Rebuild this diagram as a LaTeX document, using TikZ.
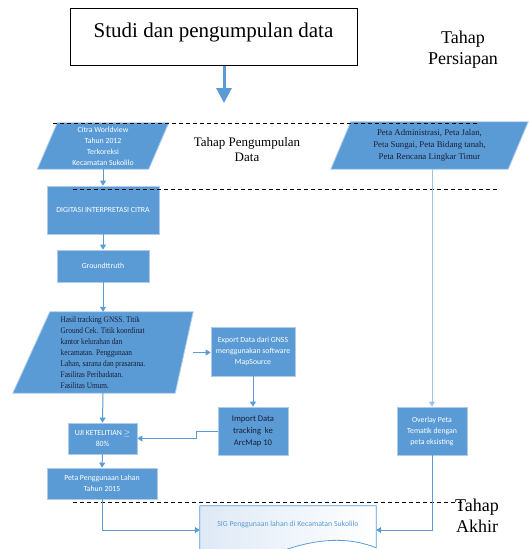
\documentclass[tikz,border=0pt]{standalone}
\usepackage{fontspec}
\setmainfont{Liberation Serif}
\newfontfamily\carl{Carlito}
\newfontfamily\narrowserif[FakeStretch=0.85]{Liberation Serif}
\usetikzlibrary{arrows.meta,backgrounds,calc}
\definecolor{bluefill}{RGB}{91,155,213}
\definecolor{blueedge}{RGB}{175,203,234}
\definecolor{bluelight}{RGB}{157,195,230}
\definecolor{darktext}{RGB}{25,30,55}
\definecolor{sigtint}{RGB}{222,233,246}
\begin{document}
\begin{tikzpicture}[x=1pt,y=-1pt,
  box/.style={fill=bluefill, draw=blueedge, line width=0.8pt, inner sep=0pt, align=center, text=white, font=\carl\fontsize{7.8}{11}\selectfont},
  plain/.style={inner sep=0pt, align=center, text=white, font=\carl\fontsize{7.8}{11}\selectfont},
  para/.style={fill=bluefill, draw=blueedge, line width=0.8pt},
  conn/.style={draw=bluefill, line width=1pt, -{Triangle[width=6pt,length=5pt]}},
  phase/.style={font=\fontsize{18}{21}\selectfont, align=center, inner sep=0pt},
  dashline/.style={dash pattern=on 4pt off 3pt, line width=0.8pt}
]
\useasboundingbox (0,0) rectangle (528,549);
\clip (0,0) rectangle (528,549);

% top box
\node[draw, line width=1pt, minimum width=287pt, minimum height=57pt, inner sep=0pt,
      font=\fontsize{21}{24}\selectfont, text height=14pt, text depth=13pt] (studi) at (213.5,36.5) {Studi dan pengumpulan data};
\coordinate (arrowend) at (224,103);
\draw[line width=3pt, bluefill, -{Triangle[width=15pt,length=15pt]}] (studi.south -| arrowend) -- (arrowend);

\node[phase] (persiapan) at (463,50) {Tahap\\Persiapan};
\node[font=\fontsize{13}{15}\selectfont, align=center, inner sep=0pt] (pengumpulan) at (247,150) {Tahap Pengumpulan\\Data};

% left column
\node[plain, minimum width=131pt, minimum height=46pt] (citra) at (103,146) {Citra Worldview\\Tahun 2012\\Terkoreksi\\Kecamatan Sukolilo};
\node[box, minimum width=112pt, minimum height=48pt] (digitasi) at (103,210) {DIGITASI INTERPRETASI CITRA};
\node[box, minimum width=92pt, minimum height=32pt] (ground) at (103,266) {Groundttruth};
\node[plain, minimum width=180pt, minimum height=81pt, align=left, text=darktext, font=\narrowserif\fontsize{8.6}{11.1}\selectfont] (hasil) at (103,352.5)
  {Hasil tracking GNSS. Titik\\Ground Cek. Titik koordinat\\kantor kelurahan dan\\kecamatan. Penggunaan\\Lahan, sarana dan prasarana.\\Fasilitas Peribadatan.\\Fasilitas Umum.};
\node[box, minimum width=69pt, minimum height=31pt] (uji) at (102.5,438.5) {UJI KETELITIAN $\geq$\\80\%};
\node[box, minimum width=110pt, minimum height=31pt] (petalahan) at (102,483.5) {Peta Penggunaan Lahan\\Tahun 2015};

% middle column
\node[box, minimum width=84pt, minimum height=49pt] (export) at (253,351.5) {Export Data dari GNSS\\menggunakan software\\MapSource};
\node[box, minimum width=70pt, minimum height=48pt, text=darktext, font=\carl\fontsize{8.6}{12}\selectfont] (import) at (253,431) {Import Data\\tracking\ \ ke\\ArcMap 10};

% right column
\node[plain, minimum width=197pt, minimum height=47pt, text=darktext, font=\fontsize{8.8}{11.8}\selectfont] (peta) at (429.5,145.5)
  {Peta Administrasi, Peta Jalan,\\Peta Sungai, Peta Bidang tanah,\\Peta Rencana Lingkar Timur};
\node[box, minimum width=70pt, minimum height=48pt] (overlay) at (432,431) {Overlay Peta\\Tematik dengan\\peta eksisting};

% final document
\node[inner sep=0pt, minimum width=176pt, minimum height=48pt, text=bluefill, font=\carl\fontsize{7.8}{9}\selectfont,
      text height=6pt, text depth=13pt] (sig) at (288,530) {SIG Penggunaan lahan di Kecamatan Sukolilo};

\begin{scope}[on background layer]
  \path[para] ($(citra.north west)+(20,0)$) -- (citra.north east) -- ($(citra.south east)+(-20,0)$) -- (citra.south west) -- cycle;
  \path[para] ($(peta.north west)+(20,0)$) -- (peta.north east) -- ($(peta.south east)+(-20,0)$) -- (peta.south west) -- cycle;
  \path[para] ($(hasil.north west)+(37,0)$) -- (hasil.north east) -- ($(hasil.south east)+(-18,0)$) -- (hasil.south west) -- cycle;
  \path[draw=bluefill, line width=0.8pt, left color=sigtint, right color=white]
    (sig.north west) -- (sig.north east) -- ($(sig.north east)+(0,42)$)
    .. controls ($(sig.north east)+(-30,30)$) and ($(sig.north east)+(-60,34)$) .. ($(sig.north east)+(-88,43)$)
    .. controls ($(sig.north east)+(-120,54)$) and ($(sig.north east)+(-150,54)$) .. ($(sig.north west)+(0,48)$) -- cycle;
\end{scope}

% dashed separators
\coordinate (d1a) at (53,123.5); \coordinate (d1b) at (477,123.5);
\coordinate (d2a) at (73,189); \coordinate (d2b) at (497,189);
\coordinate (d3a) at (73,502); \coordinate (d3b) at (463,502);
\draw[dashline] (d1a) -- (d1b);
\draw[dashline] (d2a) -- (d2b);
\draw[dashline] (d3a) -- (d3b);

\node[phase, anchor=north] (akhir) at (477,499) {Tahap\\Akhir};

% connectors
\draw[conn] (citra.south) -- (digitasi.north);
\draw[conn] (digitasi.south) -- (ground.north);
\draw[conn] (ground.south) -- (hasil.north);
\draw[conn] (hasil.east) -- (hasil.east -| export.west);
\draw[conn] (hasil.south) -- (uji.north);
\draw[conn] (export.south) -- (import.north);
\coordinate (bend) at (196,0);
\draw[conn] (import.west) -- (import.west -| bend) -- (uji.east -| bend) -- (uji.east);
\draw[conn] (uji.south) -- (petalahan.north);
\draw[conn, draw=bluelight] (peta.south -| overlay.north) -- (overlay.north);
\draw[conn] (petalahan.south) |- (sig.west);
\draw[conn] (overlay.south) |- (sig.east);
\end{tikzpicture}
\end{document}
